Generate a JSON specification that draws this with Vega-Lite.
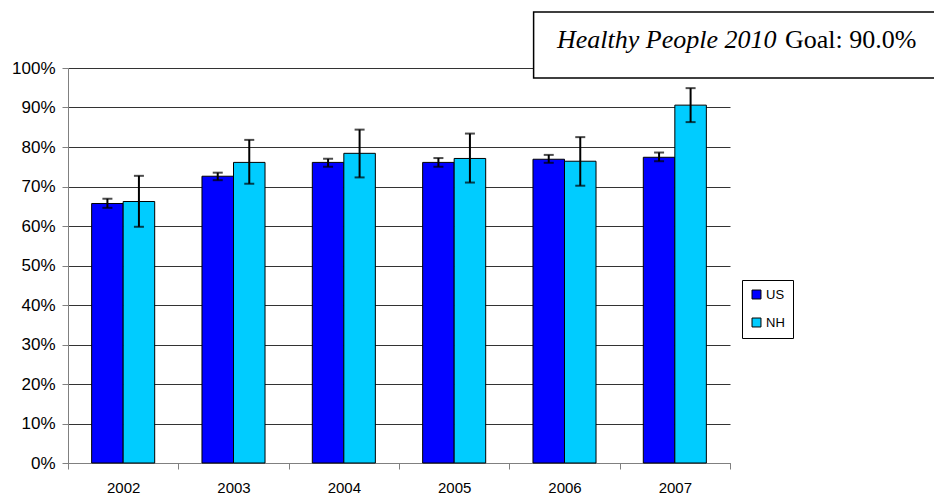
{
  "$schema": "https://vega.github.io/schema/vega-lite/v6.json",
  "width": 662,
  "height": 395,
  "autosize": {"type": "none"},
  "padding": {"left": 68, "top": 68, "right": 204, "bottom": 32},
  "background": "white",
  "config": {"view": {"stroke": null}, "font": "Liberation Sans"},
  "layer": [
    {
      "data": {"values": [
        {"year": "2002", "series": "US", "value": 0.657, "lo": 0.646, "hi": 0.669},
        {"year": "2002", "series": "NH", "value": 0.662, "lo": 0.598, "hi": 0.727},
        {"year": "2003", "series": "US", "value": 0.726, "lo": 0.716, "hi": 0.735},
        {"year": "2003", "series": "NH", "value": 0.761, "lo": 0.707, "hi": 0.818},
        {"year": "2004", "series": "US", "value": 0.761, "lo": 0.750, "hi": 0.770},
        {"year": "2004", "series": "NH", "value": 0.784, "lo": 0.723, "hi": 0.844},
        {"year": "2005", "series": "US", "value": 0.761, "lo": 0.750, "hi": 0.772},
        {"year": "2005", "series": "NH", "value": 0.771, "lo": 0.710, "hi": 0.834},
        {"year": "2006", "series": "US", "value": 0.769, "lo": 0.760, "hi": 0.780},
        {"year": "2006", "series": "NH", "value": 0.764, "lo": 0.702, "hi": 0.825},
        {"year": "2007", "series": "US", "value": 0.774, "lo": 0.764, "hi": 0.786},
        {"year": "2007", "series": "NH", "value": 0.906, "lo": 0.863, "hi": 0.949}
      ]},
      "encoding": {
        "x": {
          "field": "year", "type": "nominal",
          "scale": {"paddingInner": 0, "paddingOuter": 0},
          "axis": {
            "title": null, "labelAngle": 0, "labelFontSize": 15, "labelColor": "black",
            "labelPadding": 11, "tickBand": "extent", "tickSize": 6,
            "tickColor": "#808080", "domainColor": "#808080", "grid": false
          }
        },
        "xOffset": {
          "field": "series", "type": "nominal", "sort": ["US", "NH"],
          "scale": {"paddingInner": 0, "paddingOuter": 0.75}
        }
      },
      "layer": [
        {
          "mark": {"type": "bar", "stroke": "black", "strokeWidth": 1},
          "encoding": {
            "y": {
              "field": "value", "type": "quantitative",
              "scale": {"domain": [0, 1]},
              "axis": {
                "title": null, "format": ".0%", "values": [0, 0.1, 0.2, 0.3, 0.4, 0.5, 0.6, 0.7, 0.8, 0.9, 1],
                "tickCount": 12, "labelOverlap": false,
                "labelFontSize": 17, "labelColor": "black", "labelPadding": 7,
                "tickSize": 6, "tickColor": "#808080", "domainColor": "#808080",
                "grid": true, "gridColor": "#333333", "gridWidth": 1
              }
            },
            "color": {
              "field": "series", "type": "nominal",
              "scale": {"domain": ["US", "NH"], "range": ["#0000FF", "#00CCFF"]},
              "legend": {
                "title": null, "orient": "none", "legendX": 674, "legendY": 212,
                "symbolType": "square", "symbolSize": 80, "symbolStrokeColor": "black",
                "symbolStrokeWidth": 1, "labelFontSize": 13, "labelColor": "black",
                "rowPadding": 14, "padding": 8, "strokeColor": "black", "labelOffset": 3
              }
            }
          }
        },
        {
          "mark": {"type": "rule", "strokeWidth": 2, "color": "black"},
          "encoding": {
            "y": {"field": "lo", "type": "quantitative"},
            "y2": {"field": "hi"}
          }
        },
        {
          "mark": {"type": "tick", "thickness": 2, "size": 10, "color": "black", "orient": "horizontal"},
          "encoding": {"y": {"field": "lo", "type": "quantitative"}}
        },
        {
          "mark": {"type": "tick", "thickness": 2, "size": 10, "color": "black", "orient": "horizontal"},
          "encoding": {"y": {"field": "hi", "type": "quantitative"}}
        }
      ]
    },
    {
      "data": {"values": [{"italic": "Healthy People 2010", "plain": "Goal: 90.0%"}]},
      "layer": [
        {
          "mark": {"type": "rect", "fill": "white", "stroke": "black", "strokeWidth": 1.5},
          "encoding": {
            "x": {"datum": "2006", "type": "nominal", "bandPosition": 0.22},
            "x2": {"datum": "2007", "bandPosition": 2.9},
            "y": {"datum": 1.142, "type": "quantitative"},
            "y2": {"datum": 0.975}
          }
        },
        {
          "mark": {"type": "text", "font": "Liberation Serif", "fontStyle": "italic", "fontSize": 26, "align": "left", "baseline": "alphabetic", "color": "black"},
          "encoding": {
            "x": {"datum": "2006", "type": "nominal", "bandPosition": 0.432},
            "y": {"datum": 1.0506, "type": "quantitative"},
            "text": {"field": "italic"}
          }
        },
        {
          "mark": {"type": "text", "font": "Liberation Serif", "fontSize": 26, "align": "left", "baseline": "alphabetic", "color": "black"},
          "encoding": {
            "x": {"datum": "2007", "type": "nominal", "bandPosition": 1.498},
            "y": {"datum": 1.0506, "type": "quantitative"},
            "text": {"field": "plain"}
          }
        }
      ]
    }
  ]
}
